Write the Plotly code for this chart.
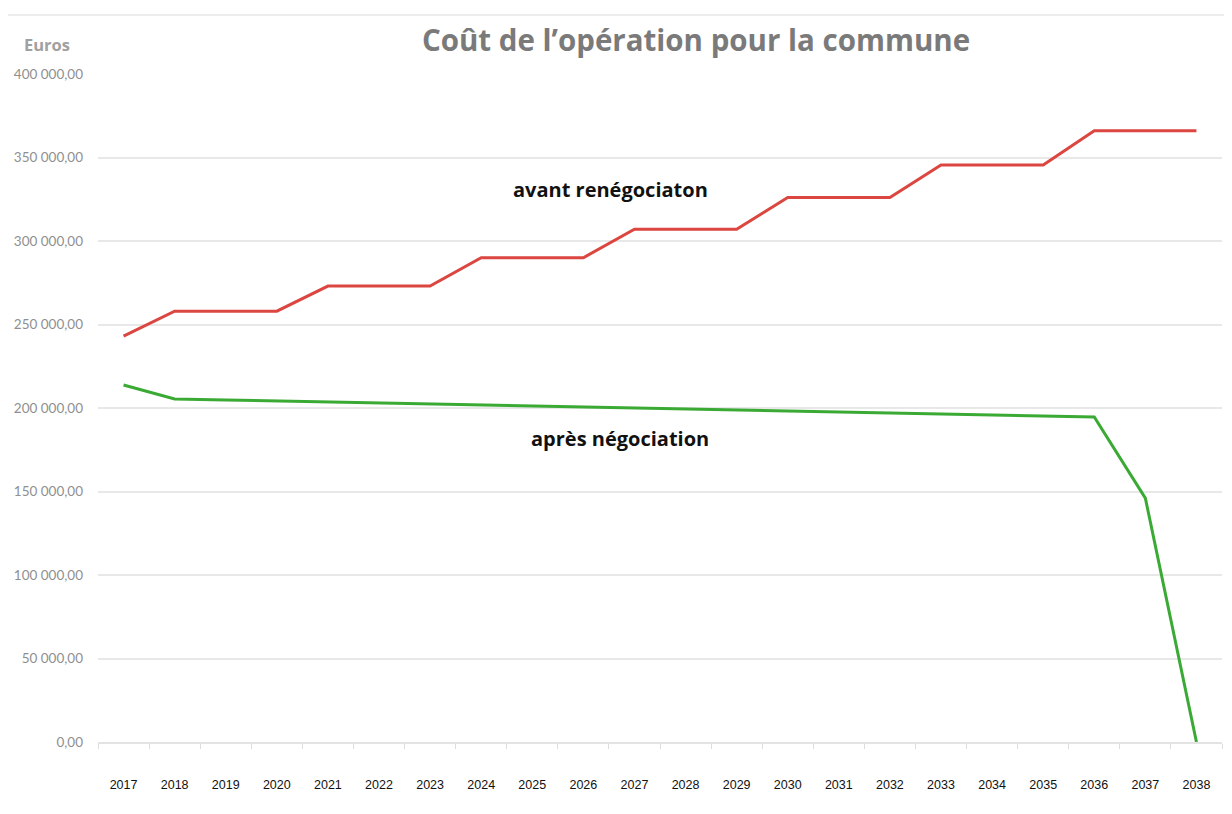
import plotly.graph_objects as go

years = [str(y) for y in range(2017, 2039)]
avant = [243000, 258000, 258000, 258000, 273000, 273000, 273000, 290000, 290000, 290000,
         307000, 307000, 307000, 326000, 326000, 326000, 345500, 345500, 345500,
         366000, 366000, 366000]
apres = [213800, 205400, 204800, 204200, 203600, 203000, 202400, 201800, 201200, 200600,
         200000, 199400, 198800, 198200, 197600, 197000, 196400, 195800, 195200,
         194600, 146000, 0]
ytick_vals = [0, 50000, 100000, 150000, 200000, 250000, 300000, 350000, 400000]
ytick_text = ["0,00", "50 000,00", "100 000,00", "150 000,00", "200 000,00",
              "250 000,00", "300 000,00", "350 000,00", "400 000,00"]

# page body has an 8px margin; figure coords = reference coords - 8
W, H = 1216, 798
OFF = 8
L, R = 98 - OFF, 1222 - OFF
T, B = 74 - OFF, 742 - OFF
PW, PH = R - L, B - T


def px(x):
    return (x - OFF - L) / PW


def py(y):
    return (B - (y - OFF)) / PH


fig = go.Figure()
fig.add_trace(go.Scatter(x=years, y=avant, mode="lines", name="avant renégociaton",
                         line=dict(color="#dc4640", width=3)))
fig.add_trace(go.Scatter(x=years, y=apres, mode="lines", name="après négociation",
                         line=dict(color="#3aaa35", width=3)))

fig.update_layout(
    width=W, height=H,
    margin=dict(l=L, r=W - R, t=T, b=H - B, pad=0),
    paper_bgcolor="white", plot_bgcolor="white",
    showlegend=False,
    title=dict(text="<b>Coût de l’opération pour la commune</b>", xref="container",
               x=(696 - OFF) / W, xanchor="center", yref="container",
               y=1 - (41 - OFF) / H, yanchor="middle",
               font=dict(family="Open Sans", size=29.5, color="#7a7a7a")),
    xaxis=dict(type="category", range=[-0.5, len(years) - 0.5], tickson="boundaries",
               ticks="outside", ticklen=5,
               tickcolor="#dddddd", showgrid=False, showline=True, linecolor="#e3e3e3",
               linewidth=1.5, ticklabelstandoff=30,
               tickfont=dict(family="Liberation Sans", size=12.5, color="#111111")),
    yaxis=dict(range=[0, 400000], tickvals=ytick_vals, ticktext=ytick_text,
               showgrid=True, gridcolor="#e8e8e8", gridwidth=1.5, zeroline=False,
               showline=False, ticks="", ticklabelstandoff=14,
               tickfont=dict(family="Lato", size=13.5, color="#8f8f8f")),
)

fig.add_annotation(text="<b>Euros</b>", xref="paper", yref="paper", x=px(47),
                   y=py(44), showarrow=False, xanchor="center", yanchor="middle",
                   font=dict(family="Open Sans", size=16.5, color="#a0a0a0"))
fig.add_annotation(text="<b>avant renégociaton</b>", xref="paper", yref="paper",
                   x=px(610), y=py(189), showarrow=False,
                   xanchor="center", yanchor="middle",
                   font=dict(family="Open Sans", size=20, color="#111111"))
fig.add_annotation(text="<b>après négociation</b>", xref="paper", yref="paper",
                   x=px(620), y=py(439), showarrow=False,
                   xanchor="center", yanchor="middle",
                   font=dict(family="Open Sans", size=20, color="#111111"))

fx = px(7)
fy = py(15)
fig.add_shape(type="line", xref="paper", yref="paper", x0=fx, x1=fx, y0=-0.2, y1=fy,
              line=dict(color="#e6e6e6", width=1.5))
fig.add_shape(type="line", xref="paper", yref="paper", x0=fx, x1=1.1, y0=fy, y1=fy,
              line=dict(color="#e6e6e6", width=1.5))

fig.write_html("out.html")
